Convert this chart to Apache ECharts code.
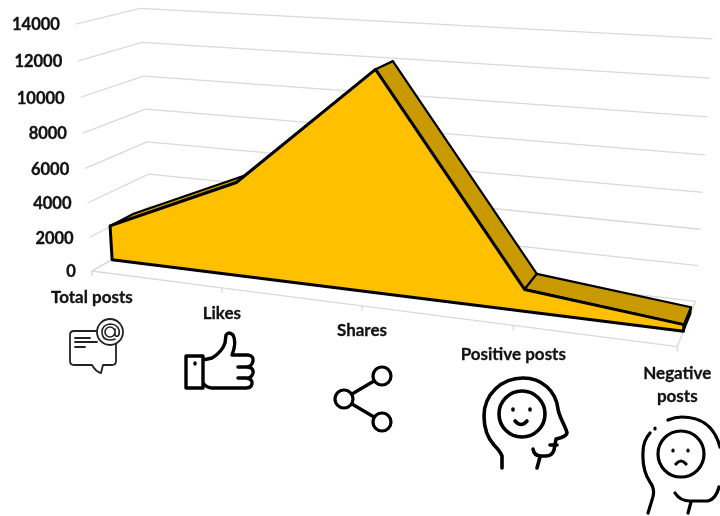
<!DOCTYPE html>
<html>
<head>
<meta charset="utf-8">
<style>html,body{margin:0;padding:0;background:#fff}#box{width:720px;height:516px}</style>
<script src="https://cdn.jsdelivr.net/npm/echarts@6/dist/echarts.min.js"></script>
</head>
<body>
<div id="box"></div>
<script>
var categories = ['Total posts', 'Likes', 'Shares', 'Positive posts', 'Negative\nposts'];
var values = [2050, 5400, 12200, 1200, 350];
var yTicks = [0, 2000, 4000, 6000, 8000, 10000, 12000, 14000];
var yMax = 14000;

// where the area sits in the depth of the box (0 front wall, 1 back wall)
var depthFront = 0.32;
var depthBack = 0.71;

// camera calibration: box position [u, v, w] -> screen [x, y]
var anchors = [
    [0, 0, 0, 92, 270], [0.25, 0, 0, 222, 288], [0.5, 0, 0, 362, 307], [0.75, 0, 0, 513, 327], [1, 0, 0, 677, 346],
    [0, 0, 1, 152, 238], [1, 0, 1, 696, 300],
    [0, 1, 0, 76, 24], [0, 1, 1, 140, 9], [1, 1, 1, 713, 39],
    [0, 8 / 14, 0, 83, 132], [0, 8 / 14, 1, 145, 109], [1, 8 / 14, 1, 705, 155]
];

function solveCamera(pts) {
    var n = 11, A = [], b = [], i, j, k;
    for (i = 0; i < n; i++) { A.push(new Array(n).fill(0)); b.push(0); }
    function addRow(r, t) {
        for (var a = 0; a < n; a++) {
            for (var c = 0; c < n; c++) A[a][c] += r[a] * r[c];
            b[a] += r[a] * t;
        }
    }
    pts.forEach(function (p) {
        addRow([p[0], p[1], p[2], 1, 0, 0, 0, 0, -p[3] * p[0], -p[3] * p[1], -p[3] * p[2]], p[3]);
        addRow([0, 0, 0, 0, p[0], p[1], p[2], 1, -p[4] * p[0], -p[4] * p[1], -p[4] * p[2]], p[4]);
    });
    for (i = 0; i < n; i++) {
        var best = i;
        for (j = i + 1; j < n; j++) if (Math.abs(A[j][i]) > Math.abs(A[best][i])) best = j;
        var tmp = A[i]; A[i] = A[best]; A[best] = tmp;
        tmp = b[i]; b[i] = b[best]; b[best] = tmp;
        for (j = i + 1; j < n; j++) {
            var f = A[j][i] / A[i][i];
            for (k = i; k < n; k++) A[j][k] -= f * A[i][k];
            b[j] -= f * b[i];
        }
    }
    var x = new Array(n);
    for (i = n - 1; i >= 0; i--) {
        var s = b[i];
        for (k = i + 1; k < n; k++) s -= A[i][k] * x[k];
        x[i] = s / A[i][i];
    }
    return x;
}
var cam = solveCamera(anchors);

function toScreen(u, v, w) {
    var d = cam[8] * u + cam[9] * v + cam[10] * w + 1;
    return [
        (cam[0] * u + cam[1] * v + cam[2] * w + cam[3]) / d,
        (cam[4] * u + cam[5] * v + cam[6] * w + cam[7]) / d
    ];
}

// axis scale -> box position -> screen
function project(api, params, cat, val, w) {
    var c = api.coord([cat, val]);
    var g = params.coordSys;
    return toScreen((c[0] - g.x) / g.width, (g.y + g.height - c[1]) / g.height, w);
}

var gridColor = '#d9d9d9';
var textColor = '#111';
var lineStyle = { stroke: gridColor, lineWidth: 1.3, fill: null };

function line(a, b, style) {
    return { type: 'line', shape: { x1: a[0], y1: a[1], x2: b[0], y2: b[1] }, style: style };
}

function renderWall(params, api) {
    var v = api.value(1);
    var last = categories.length - 1;
    var a = project(api, params, 0, v, 0);
    var b = project(api, params, 0, v, 1);
    var c = project(api, params, last, v, 1);
    return {
        type: 'group',
        children: [
            line(a, b, lineStyle),
            line(b, c, lineStyle),
            {
                type: 'text',
                style: {
                    x: a[0] - 16, y: a[1] + 1, text: String(v), align: 'right', verticalAlign: 'middle',
                    font: 'bold 16.5px Lato', fill: textColor, stroke: textColor, lineWidth: 0.35
                }
            }
        ]
    };
}

var labelGap = [15, 14, 13, 18, 15];

function renderFloor(params, api) {
    var i = api.value(0);
    var last = categories.length - 1;
    var p = project(api, params, i, 0, 0);
    var kids = [
        line(p, [p[0], p[1] + 5], lineStyle),
        {
            type: 'text',
            style: {
                x: p[0], y: p[1] + labelGap[i], text: categories[i], align: 'center', verticalAlign: 'top',
                font: 'bold 17px Lato', fill: textColor, stroke: textColor, lineWidth: 0.3, lineHeight: 23
            }
        }
    ];
    if (i < last) kids.push(line(p, project(api, params, i + 1, 0, 0), lineStyle));
    if (i === 0 || i === last) kids.push(line(p, project(api, params, i, 0, 1), lineStyle));
    return { type: 'group', children: kids };
}

function renderRibbon(params, api) {
    var i = api.value(0);
    if (i >= values.length - 1) return;
    var pts = [
        project(api, params, i, values[i], depthFront),
        project(api, params, i + 1, values[i + 1], depthFront),
        project(api, params, i + 1, values[i + 1], depthBack),
        project(api, params, i, values[i], depthBack)
    ];
    return {
        type: 'polygon', shape: { points: pts },
        style: { fill: '#c99a00', stroke: '#000', lineWidth: 2.2, lineJoin: 'round' }
    };
}

function renderEnd(params, api) {
    var i = values.length - 1;
    if (api.value(0) !== i) return;
    var pts = [
        project(api, params, i, 0, depthFront),
        project(api, params, i, values[i], depthFront),
        project(api, params, i, values[i], depthBack),
        project(api, params, i, 0, depthBack)
    ];
    return {
        type: 'polygon', shape: { points: pts },
        style: { fill: '#1a1400', stroke: '#000', lineWidth: 1.5, lineJoin: 'round' }
    };
}

function renderFront(params, api) {
    if (api.value(0) !== 0) return;
    var pts = [];
    var i;
    for (i = 0; i < values.length; i++) pts.push(project(api, params, i, values[i], depthFront));
    pts.push(project(api, params, values.length - 1, 0, depthFront));
    pts.push(project(api, params, 0, 0, depthFront));
    return {
        type: 'polygon', shape: { points: pts },
        style: { fill: '#ffc000', stroke: '#000', lineWidth: 3, lineJoin: 'round' }
    };
}

// pictograms under the category labels
var icons = [
    { w: 1.8, c: '#222', d: 'M76 331H112Q116 331 116 335V361Q116 365 112 365H103L101 373Q96 372 92 365H74Q70 365 70 361V335Q70 331 74 331Z' +
        'M75 338H90M75 342H97M75 347H85' },
    { w: 1.8, c: '#222', f: '#fff', d: 'M123 332A13 13 0 1 1 97 332A13 13 0 1 1 123 332Z' },
    { w: 1.6, c: '#222', d: 'M115 332A5 5 0 1 1 105 332A5 5 0 1 1 115 332ZM115 329V334Q115 337 118 336Q120 334 119 330Q117 324 110 324Q102 325 102 332Q102 340 110 340Q113 340 115 339' },
    { w: 3.4, c: '#000', d: 'M186 356H203V388H186ZM203 360L212 358Q222 352 225 343L226 335Q229 331 233 335Q237 342 232 355L248 355Q254 356 253 361Q252 367 246 367H238M246 367Q254 367 253 373Q252 378 246 378H238M246 378Q253 379 252 384Q251 388 246 388H212Q207 388 203 383' },
    { w: 3.4, c: '#000', d: 'M195 363L195 364' },
    { w: 3.2, c: '#000', d: 'M391 376A9 9 0 1 1 373 376A9 9 0 1 1 391 376ZM353 399A9 9 0 1 1 335 399A9 9 0 1 1 353 399ZM391 422A9 9 0 1 1 373 422A9 9 0 1 1 391 422ZM352 394L374 381M352 404L374 417' },
    { w: 3.6, c: '#000', d: 'M502 468V456Q500 451 494 445Q484 434 484 416C484 394 502 378 523 378C542 378 556 391 558 409C559 417 566 427 567 433Q566 437 556 439L554 450Q552 456 546 456H541Q534 456 533 449M540 457L537 468' +
        'M545 414A23 23 0 1 1 499 414A23 23 0 1 1 545 414Z' +
        'M515 421Q521 428 527 421M513 409L513 410M530 409L530 410M550 445H557' },
    { w: 3.2, c: '#000', d: 'M668 420Q675 417 682 417Q712 417 720 447M650 433Q643 441 643 452Q642 470 650 482Q656 490 652 500L648 513' +
        'M704 454A23 23 0 1 1 658 454A23 23 0 1 1 704 454Z' +
        'M676 464Q681 458 686 464M673 450L673 451M688 450L688 451M655 428L655 429M675 493Q680 501 690 501H708Q716 499 719 487M691 502L688 513' }
];

function renderIcon(params) {
    var ic = icons[params.dataIndex];
    return {
        type: 'path',
        shape: { pathData: ic.d },
        style: { fill: ic.f || 'none', stroke: ic.c, lineWidth: ic.w, lineCap: 'round', lineJoin: 'round' }
    };
}

var catData = categories.map(function (c, i) { return [i, values[i]]; });

function customSeries(data, fn, z) {
    return {
        type: 'custom', data: data, renderItem: fn, z: z, silent: true,
        clip: false, animation: false, encode: { x: 0, y: 1 }
    };
}

var myChart = echarts.init(document.getElementById('box'));
myChart.setOption({
    backgroundColor: '#fff',
    animation: false,
    grid: { left: 100, right: 100, top: 100, bottom: 100 },
    xAxis: { type: 'category', data: categories, boundaryGap: false, show: false },
    yAxis: { type: 'value', min: 0, max: yMax, interval: 2000, show: false },
    series: [
        customSeries(yTicks.map(function (t) { return [0, t]; }), renderWall, 1),
        customSeries(catData, renderFloor, 2),
        customSeries(catData, renderRibbon, 3),
        customSeries(catData, renderEnd, 4),
        customSeries(catData, renderFront, 5),
        customSeries(icons.map(function (c, i) { return [0, 0]; }), renderIcon, 6)
    ]
});
</script>
</body>
</html>
